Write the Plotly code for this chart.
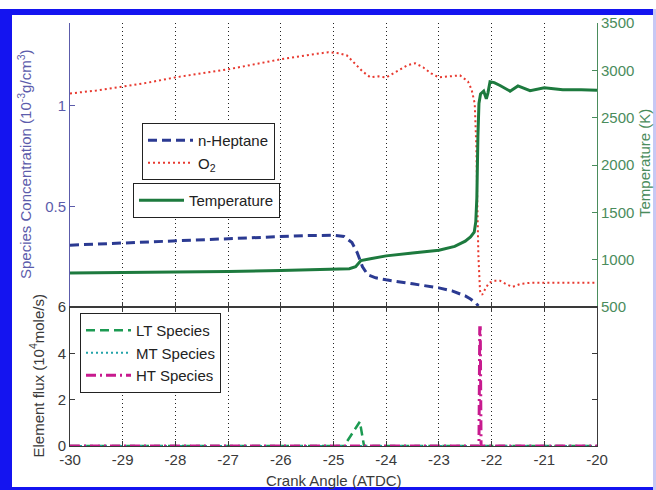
import plotly.graph_objects as go

# ---- data -------------------------------------------------------------
# n-heptane concentration (1e-3 g/cm^3) vs crank angle
heptane_angle = [-30, -29.5, -29, -28.5, -28, -27.5, -27, -26.5, -26, -25.5, -25, -24.8,
                 -24.65, -24.55, -24.45, -24.35, -24.2, -24.0, -23.5, -23.0, -22.75,
                 -22.5, -22.4, -22.3, -22.25]
heptane_conc = [0.307, 0.312, 0.318, 0.324, 0.330, 0.335, 0.340, 0.345, 0.350, 0.355, 0.356,
                0.350, 0.320, 0.270, 0.200, 0.160, 0.145, 0.135, 0.115, 0.095, 0.080,
                0.055, 0.040, 0.020, 0.005]

# O2 concentration (1e-3 g/cm^3)
o2_angle = [-30, -29.5, -29, -28.5, -28, -27.5, -27, -26.5, -26, -25.5, -25.1, -24.9, -24.75,
            -24.6, -24.45, -24.3, -24.15, -24.0, -23.8, -23.6, -23.45, -23.3, -23.15, -23.0,
            -22.8, -22.6, -22.45, -22.38, -22.32, -22.29, -22.27, -22.25, -22.22, -22.18,
            -22.12, -22.05, -21.95, -21.84, -21.7, -21.6, -21.45, -21.27, -21.0, -20.5, -20]
o2_conc = [1.06, 1.075, 1.094, 1.115, 1.14, 1.16, 1.18, 1.205, 1.23, 1.25, 1.265, 1.26, 1.25,
           1.21, 1.17, 1.14, 1.145, 1.14, 1.17, 1.20, 1.21, 1.19, 1.16, 1.14,
           1.145, 1.15, 1.12, 1.08, 1.01, 0.80, 0.50, 0.25, 0.08, 0.06,
           0.09, 0.12, 0.13, 0.13, 0.11, 0.10, 0.115, 0.12, 0.12, 0.12, 0.12]

# in-cylinder temperature (K)
temp_angle = [-30, -29, -28, -27, -26, -25.5, -25, -24.7, -24.58, -24.53, -24.48, -24.3,
              -24.0, -23.5, -23.0, -22.7, -22.5, -22.4, -22.33, -22.3, -22.28, -22.26,
              -22.24, -22.21, -22.15, -22.1, -22.07, -22.03, -21.95, -21.84, -21.65,
              -21.5, -21.27, -21.0, -20.65, -20.3, -20]
temp_k = [858, 862, 868, 875, 885, 890, 895, 905, 925, 960, 990, 1010,
          1040, 1070, 1100, 1140, 1195, 1240, 1290, 1400, 1650, 2300,
          2650, 2750, 2780, 2700, 2760, 2880, 2870, 2840, 2780,
          2835, 2785, 2815, 2795, 2795, 2790]

# element flux (1e4 mole/s)
lt_angle = [-30, -24.8, -24.5, -24.42, -20]
lt_flux = [0, 0, 1.05, 0, 0]
mt_angle = [-30, -20]
mt_flux = [0, 0]
ht_angle = [-30, -22.24, -22.225, -22.215, -22.2, -20]
ht_flux = [0, 0, 5.1, 5.1, 0, 0]

x_ticks = list(range(-30, -19))
x_tick_text = [str(v) for v in x_ticks]

# ---- styling ----------------------------------------------------------
FONT = "Liberation Sans, Arial, sans-serif"
FS = 15
C_HEP = "#2b3a92"
C_O2 = "#e8392f"
C_T = "#1d7a3e"
C_LT = "#1c9a52"
C_MT = "#22a3a8"
C_HT = "#c81a8e"
C_LEFT = "#5c5cab"
C_RIGHT = "#4a8c5c"
C_AX = "#3a3a3a"

W, H = 656, 490
ML, MR, MT, MB = 70, 59, 23, 44
PW, PH = W - ML - MR, H - MT - MB
split = (446 - 307) / PH  # panel boundary in paper units


def px(xp):
    return (xp - ML) / PW


def py(yp):
    return (H - MB - yp) / PH


fig = go.Figure()

fig.add_trace(go.Scatter(x=heptane_angle, y=heptane_conc, xaxis="x", yaxis="y",
                         mode="lines", name="n-Heptane", legend="legend",
                         line=dict(color=C_HEP, width=3, dash="9px,5px")))
fig.add_trace(go.Scatter(x=o2_angle, y=o2_conc, xaxis="x", yaxis="y",
                         mode="lines", name="O<sub>2</sub>", legend="legend",
                         line=dict(color=C_O2, width=2, dash="2px,3px")))
fig.add_trace(go.Scatter(x=temp_angle, y=temp_k, xaxis="x", yaxis="y3",
                         mode="lines", name="Temperature", legend="legend2",
                         line=dict(color=C_T, width=3)))

fig.add_trace(go.Scatter(x=lt_angle, y=lt_flux, xaxis="x2", yaxis="y2",
                         mode="lines", name="LT Species", legend="legend3",
                         line=dict(color=C_LT, width=2.5, dash="9px,5px")))
fig.add_trace(go.Scatter(x=mt_angle, y=mt_flux, xaxis="x2", yaxis="y2",
                         mode="lines", name="MT Species", legend="legend3",
                         line=dict(color=C_MT, width=2, dash="2px,3px")))
fig.add_trace(go.Scatter(x=ht_angle, y=ht_flux, xaxis="x2", yaxis="y2",
                         mode="lines", name="HT Species", legend="legend3",
                         line=dict(color=C_HT, width=3, dash="10px,4px,2px,4px")))

grid = dict(showgrid=True, gridcolor="#222222", gridwidth=1, griddash="1px,3px")

legend_common = dict(bgcolor="white", bordercolor="#222222", borderwidth=1,
                     font=dict(family=FONT, size=FS, color="#222222"),
                     xanchor="left", yanchor="top", tracegroupgap=0, itemwidth=45)

fig.update_layout(
    width=W, height=H,
    margin=dict(l=ML, r=MR, t=MT, b=MB),
    plot_bgcolor="white", paper_bgcolor="white",
    font=dict(family=FONT, size=FS, color=C_AX),
    xaxis=dict(domain=[0, 1], anchor="y", range=[-30, -20], tickvals=x_ticks,
               showticklabels=False, ticks="inside", ticklen=5, tickcolor=C_AX,
               showline=True, linecolor=C_AX, linewidth=1, zeroline=False, **grid),
    yaxis=dict(domain=[split, 1], anchor="x", range=[0, 1.41], tickvals=[0.5, 1],
               ticktext=["0.5", "1"], ticks="inside", ticklen=5, tickcolor=C_LEFT,
               showline=True, linecolor=C_LEFT, linewidth=1, showgrid=False,
               zeroline=False, tickfont=dict(color=C_LEFT, size=FS)),
    yaxis3=dict(overlaying="y", side="right", anchor="x", range=[500, 3500],
                tickvals=[500, 1000, 1500, 2000, 2500, 3000, 3500],
                ticks="inside", ticklen=5, tickcolor=C_RIGHT, showline=True,
                linecolor=C_RIGHT, linewidth=1, showgrid=False, zeroline=False,
                tickfont=dict(color=C_RIGHT, size=FS)),
    xaxis2=dict(domain=[0, 1], anchor="y2", range=[-30, -20], tickvals=x_ticks,
                ticktext=x_tick_text, ticks="inside", ticklen=5, tickcolor=C_AX,
                showline=True, linecolor=C_AX, linewidth=1, mirror="ticks",
                zeroline=False, tickfont=dict(color=C_AX, size=FS), **grid),
    yaxis2=dict(domain=[0, split], anchor="x2", range=[0, 6], tickvals=[0, 2, 4, 6],
                ticks="inside", ticklen=5, tickcolor=C_AX, showline=True,
                linecolor=C_AX, linewidth=1, mirror="ticks", showgrid=False,
                zeroline=False, tickfont=dict(color=C_AX, size=FS)),
    legend=dict(x=px(142), y=py(123), **legend_common),
    legend2=dict(x=px(133), y=py(183), **legend_common),
    legend3=dict(x=px(80), y=py(313), **legend_common),
    showlegend=True,
)

# axis titles
fig.add_annotation(text="Species Concentration (10<sup>-3</sup>g/cm<sup>3</sup>)",
                   xref="paper", yref="paper", x=0, y=(split + 1) / 2, xshift=-46,
                   textangle=-90, showarrow=False, xanchor="center", yanchor="middle",
                   font=dict(family=FONT, size=FS, color=C_LEFT))
fig.add_annotation(text="Element flux (10<sup>4</sup>mole/s)",
                   xref="paper", yref="paper", x=0, y=split / 2, xshift=-33,
                   textangle=-90, showarrow=False, xanchor="center", yanchor="middle",
                   font=dict(family=FONT, size=FS, color=C_AX))
fig.add_annotation(text="Temperature (K)",
                   xref="paper", yref="paper", x=1, y=py(163), xshift=47,
                   textangle=-90, showarrow=False, xanchor="center", yanchor="middle",
                   font=dict(family=FONT, size=FS, color=C_RIGHT))
fig.add_annotation(text="Crank Angle (ATDC)",
                   xref="paper", yref="paper", x=0.5, y=0, yshift=-34,
                   showarrow=False, xanchor="center", yanchor="middle",
                   font=dict(family=FONT, size=FS, color=C_AX))

# blue page frame
frame = [
    (0, 9, 12, 489, "#1414f0"),
    (0, 9, 656, 15, "#1414f0"),
    (0, 487, 656, 490, "#1414f0"),
    (653, 9, 656, 490, "#c8c8f4"),
]
for x0, y0, x1, y1, col in frame:
    fig.add_shape(type="rect", xref="paper", yref="paper",
                  x0=px(x0), x1=px(x1), y0=py(y1), y1=py(y0),
                  fillcolor=col, line=dict(width=0), layer="above")

fig.write_html("out.html")
